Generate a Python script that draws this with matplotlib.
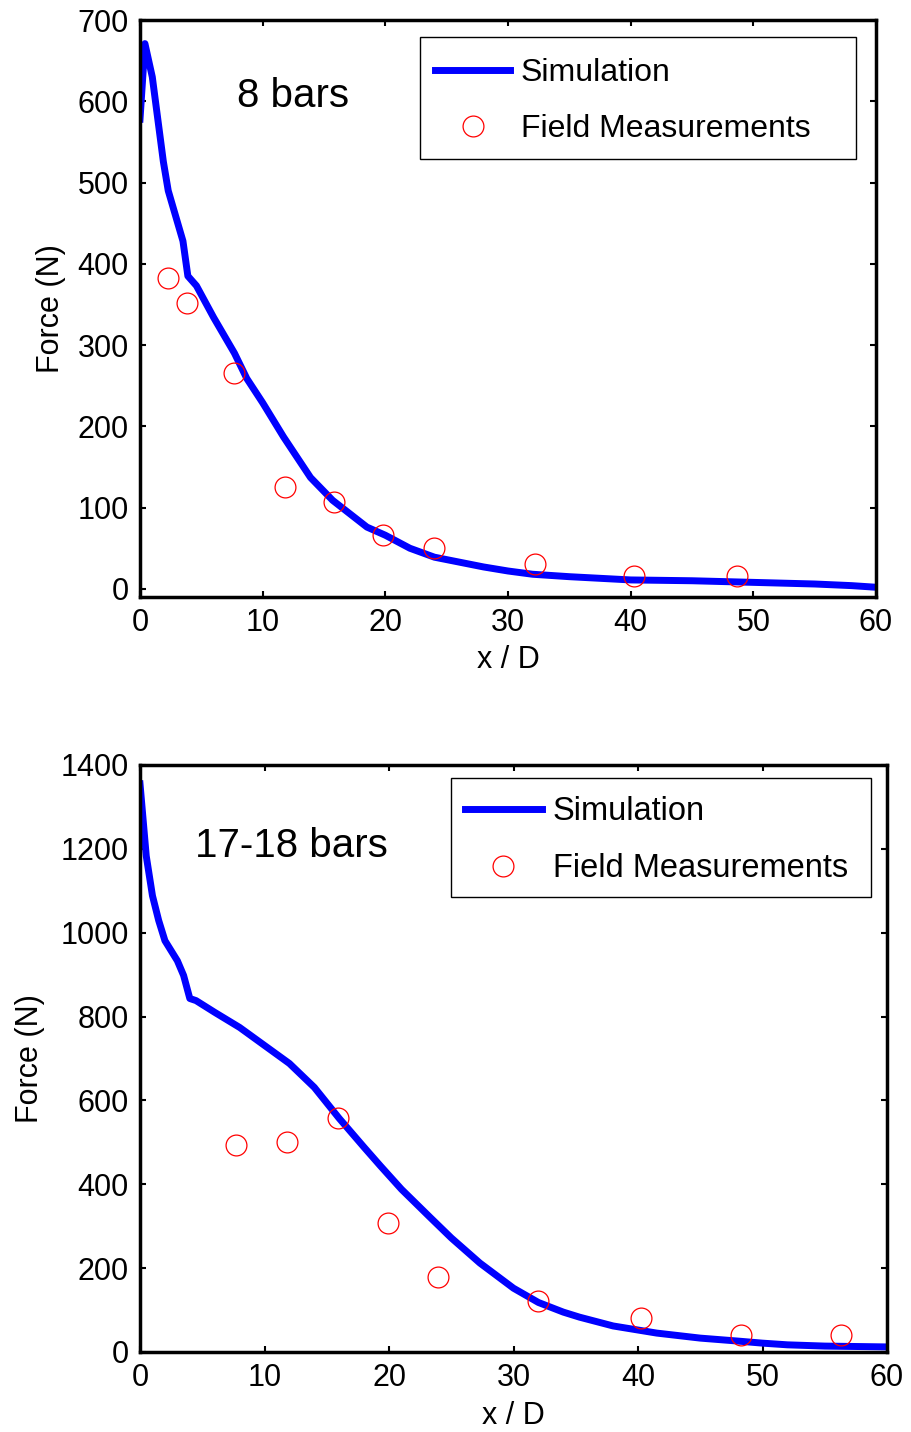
import matplotlib
matplotlib.use('Agg')
import matplotlib.pyplot as plt
from matplotlib.patches import Rectangle

plt.rcParams['font.family'] = ['Liberation Sans', 'DejaVu Sans']

# 8 bars - simulation curve
sim8_x = [0, 0.4, 1.0, 1.9, 2.3, 3.5, 3.9, 4.6, 6, 7.7, 8.7, 10, 11.7, 13.9, 15.7, 18.5, 20,
          22, 24, 26, 28, 30, 32, 35, 40, 45, 50, 55, 58, 60]
sim8_y = [578, 671, 630, 526, 490, 428, 385, 373, 334, 290, 259, 229, 187, 137, 109, 76, 66,
          50, 39, 33, 27, 22, 18, 15, 11, 10, 8, 6, 4, 2]
# 8 bars - field measurements
meas8_x = [2.3, 3.8, 7.7, 11.8, 15.8, 19.8, 24.0, 32.2, 40.3, 48.7]
meas8_y = [383, 352, 266, 125, 107, 66, 50, 31, 16, 16]

# 17-18 bars - simulation curve
sim17_x = [0, 0.5, 1.0, 1.5, 2, 3, 3.5, 4, 4.5, 6, 8, 10, 12, 14, 16, 18, 19.3, 21,
           23.3, 25, 27.3, 30, 32, 34, 35.3, 38, 41.5, 45, 48, 50, 52, 55, 60]
sim17_y = [1355, 1183, 1088, 1029, 981, 933, 898, 843, 838, 810, 774, 731, 688, 631,
           557, 488, 444, 388, 321, 272, 212, 152, 118, 95, 83, 62, 45, 33, 26,
           21, 17, 14, 12]
# 17-18 bars - field measurements
meas17_x = [7.7, 11.8, 15.9, 19.9, 23.9, 32.0, 40.2, 48.3, 56.3]
meas17_y = [493, 500, 557, 307, 179, 121, 81, 40, 40]

fig = plt.figure(figsize=(9.11, 14.32), dpi=100)
ax1 = fig.add_axes([0.1537, 0.5831, 0.8079, 0.4029])
ax2 = fig.add_axes([0.1537, 0.0559, 0.8200, 0.4099])


def style(ax, label, lx, ly, ylabel_x, leg_anchor, box, legsize):
    ax.plot(lx[0], lx[1], color='#0000ff', lw=5, label='Simulation', zorder=2)
    ax.plot(ly[0], ly[1], ls='none', marker='o', ms=15, mfc='none', mec='#ff0000',
            mew=0.9, label='Field Measurements', zorder=3)
    ax.set_xlim(0, 60)
    ax.set_xticks([0, 10, 20, 30, 40, 50, 60])
    for s in ax.spines.values():
        s.set_linewidth(2.5)
    ax.tick_params(direction='in', length=4, width=1.5, top=True, right=True,
                   labelsize=22, pad=8)
    ax.set_xlabel('x / D', fontsize=22)
    ax.set_ylabel('Force (N)', fontsize=22)
    ax.xaxis.set_label_coords(0.5, -0.083)
    ax.yaxis.set_label_coords(ylabel_x, 0.5)
    # legend frame drawn separately (MATLAB-style wide box)
    ax.add_patch(Rectangle((box[0], box[1]), box[2] - box[0], box[3] - box[1],
                           transform=ax.transAxes, facecolor='white', edgecolor='black',
                           lw=1, zorder=4))
    leg = ax.legend(loc='upper left', bbox_to_anchor=leg_anchor, borderaxespad=0,
                    borderpad=0, fontsize=legsize, frameon=False,
                    handlelength=2.35, handletextpad=0.34, labelspacing=0.8)
    leg.set_zorder(5)
    ax.text(label[0], label[1], label[2], fontsize=29, va='center')


style(ax1, (7.9, 606, '8 bars'), (sim8_x, sim8_y), (meas8_x, meas8_y), -0.100,
      (0.4008, 0.9335), (0.3804, 0.7591, 0.9728, 0.9705), 23)
ax1.set_ylim(-10, 700)
ax1.set_yticks(range(0, 701, 100))

style(ax2, (4.4, 1207, '17-18 bars'), (sim17_x, sim17_y), (meas17_x, meas17_y), -0.127,
      (0.4351, 0.9470), (0.4163, 0.7751, 0.9786, 0.9779), 23.5)
ax2.set_ylim(0, 1400)
ax2.set_yticks(range(0, 1401, 200))

fig.savefig('out.png', dpi=100)
